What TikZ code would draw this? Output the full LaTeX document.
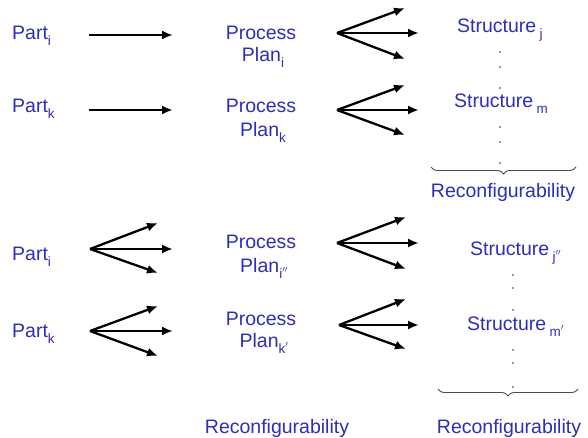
\documentclass[tikz,border=0pt]{standalone}
\usepackage{fontspec}
\setmainfont{Liberation Sans}
\usetikzlibrary{arrows.meta,decorations.pathreplacing}
\definecolor{txtblue}{RGB}{45,45,185}
\definecolor{dotblue}{RGB}{110,110,170}
\tikzset{
  lbl/.style={inner sep=0pt, anchor=base west, text=txtblue, font=\fontsize{19.5}{23}\selectfont},
  ctr/.style={inner sep=0pt, anchor=base, text=txtblue, font=\fontsize{19.5}{23}\selectfont},
  arr/.style={line width=2.3pt, -{Latex[length=11pt,width=9pt]}},
  brc/.style={decorate, decoration={brace, mirror, amplitude=7pt}, line width=0.9pt, draw=black!70},
  dt/.style={fill=dotblue}
}
\newcommand{\sbs}[1]{\raisebox{-6pt}{\fontsize{13.5}{15}\selectfont #1}}
\begin{document}
\begin{tikzpicture}[x=1pt,y=-1pt]
\useasboundingbox (0,0) rectangle (588,438);
% ---------- top part ----------
\node[lbl] (pi1) at (12,40) {Part\sbs{i}};
\node[lbl] (pk1) at (12,113) {Part\sbs{k}};
\coordinate (a1s) at (89,35);  \coordinate (a1e) at (173,35);
\coordinate (a2s) at (89,110); \coordinate (a2e) at (173,110);
\draw[arr] (a1s) -- (a1e);
\draw[arr] (a2s) -- (a2e);
\node[ctr] (pr1) at (261,40) {Process};
\node[ctr] (pl1) at (263,62) {Plan\sbs{i}};
\node[ctr] (pr2) at (261,113) {Process};
\node[ctr] (pl2) at (263,137) {Plan\sbs{k}};
% fans top
\coordinate (f1) at (337,33);
\coordinate (f1a) at (405,8); \coordinate (f1b) at (419,33); \coordinate (f1c) at (405,59);
\draw[arr] (f1) -- (f1a); \draw[arr] (f1) -- (f1b); \draw[arr] (f1) -- (f1c);
\coordinate (f2) at (337,110);
\coordinate (f2a) at (405,85); \coordinate (f2b) at (419,110); \coordinate (f2c) at (405,135);
\draw[arr] (f2) -- (f2a); \draw[arr] (f2) -- (f2b); \draw[arr] (f2) -- (f2c);
\node[lbl] (sj) at (457,33) {Structure\,\sbs{j}};
\node[lbl] (sm) at (454,108) {Structure\,\sbs{m}};
\foreach \y in {52,67,88,127,142,163} \fill[dt] (500,\y) circle (1.1);
\coordinate (b1l) at (431,167); \coordinate (b1r) at (576,167);
\draw[brc] (b1l) -- (b1r);
\node[ctr] (rc1) at (503,197) {Reconfigurability};
% ---------- bottom part ----------
\node[lbl] (pi2) at (12,260) {Part\sbs{i}};
\node[lbl] (pk2) at (12,337) {Part\sbs{k}};
\coordinate (g1) at (90,249);
\coordinate (g1a) at (158,223); \coordinate (g1b) at (173,249); \coordinate (g1c) at (158,273);
\draw[arr] (g1) -- (g1a); \draw[arr] (g1) -- (g1b); \draw[arr] (g1) -- (g1c);
\coordinate (g2) at (90,331);
\coordinate (g2a) at (158,306); \coordinate (g2b) at (173,331); \coordinate (g2c) at (158,356);
\draw[arr] (g2) -- (g2a); \draw[arr] (g2) -- (g2b); \draw[arr] (g2) -- (g2c);
\node[ctr] (pr3) at (261,248) {Process};
\node[ctr] (pl3) at (264,272) {Plan\sbs{i$''$}};
\node[ctr] (pr4) at (261,325) {Process};
\node[ctr] (pl4) at (264,347) {Plan\sbs{k$'$}};
\node[ctr] (rc2) at (277,433) {Reconfigurability};
% fans bottom right
\coordinate (h1) at (337,243);
\coordinate (h1a) at (406,217); \coordinate (h1b) at (419,243); \coordinate (h1c) at (406,269);
\draw[arr] (h1) -- (h1a); \draw[arr] (h1) -- (h1b); \draw[arr] (h1) -- (h1c);
\coordinate (h2) at (339,325);
\coordinate (h2a) at (406,299); \coordinate (h2b) at (419,325); \coordinate (h2c) at (406,349);
\draw[arr] (h2) -- (h2a); \draw[arr] (h2) -- (h2b); \draw[arr] (h2) -- (h2c);
\node[lbl] (sj2) at (470,255) {Structure\,\sbs{j$''$}};
\node[lbl] (sm2) at (467,330) {Structure\,\sbs{m$'$}};
\foreach \y in {275,288,310,350,363,387} \fill[dt] (513,\y) circle (1.1);
\coordinate (b2l) at (438,389); \coordinate (b2r) at (578,389);
\draw[brc] (b2l) -- (b2r);
\node[ctr] (rc3) at (509,433) {Reconfigurability};
\end{tikzpicture}
\end{document}
